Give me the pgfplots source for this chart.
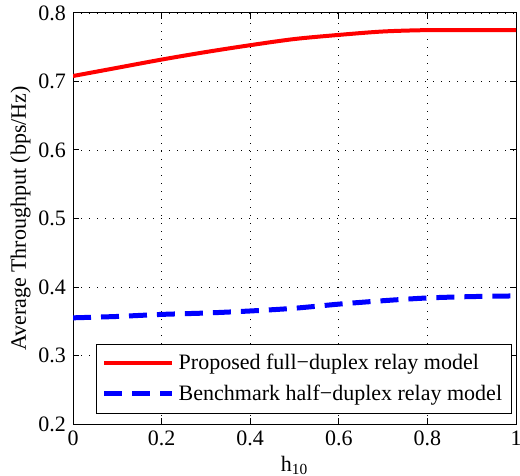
\documentclass[border=0pt]{standalone}
\usepackage{fontspec}
\setmainfont{Liberation Serif}
\usepackage{pgfplots}
\pgfplotsset{compat=1.18}
\begin{document}
\begin{tikzpicture}
\begin{axis}[
  scale only axis,
  width=221.5pt, height=205.5pt,
  xmin=0, xmax=1, ymin=0.2, ymax=0.8,
  xtick={0,0.2,0.4,0.6,0.8,1},
  ytick={0.2,0.3,0.4,0.5,0.6,0.7,0.8},
  xticklabels={0,0.2,0.4,0.6,0.8,1},
  yticklabels={0.2,0.3,0.4,0.5,0.6,0.7,0.8},
  tick align=inside, tick pos=both,
  major tick length=3pt,
  grid=major,
  major grid style={black, line width=0.4pt, dash pattern=on 0.5pt off 3.5pt},
  axis line style={black, line width=0.5pt},
  every tick/.style={black, line width=0.5pt},
  tick label style={font=\fontsize{11}{13}\selectfont},
  label style={font=\fontsize{11}{13}\selectfont},
  xlabel={h\textsubscript{10}},
  ylabel={Average Throughput (bps/Hz)},
  xlabel style={yshift=2pt},
  ylabel style={yshift=-3pt},
  legend style={at={(0.99,0.025)}, anchor=south east, draw=black, line width=0.5pt,
    font=\fontsize{11}{13}\selectfont, inner xsep=2.5pt, inner ysep=3pt, row sep=2pt,
    cells={anchor=west}},
  legend image code/.code={\draw[#1] (0pt,0pt) -- (34pt,0pt);},
]
\addplot[red, line width=2pt, smooth] coordinates {
(0,0.708) (0.1,0.720) (0.2,0.732) (0.3,0.743) (0.4,0.753) (0.5,0.762) (0.6,0.768) (0.7,0.773) (0.8,0.775) (0.9,0.775) (1,0.775)};
\addlegendentry{Proposed full\textminus duplex relay model}
\addplot[blue, line width=2.5pt, dash pattern=on 9pt off 5pt, smooth] coordinates {
(0,0.355) (0.1,0.357) (0.2,0.360) (0.3,0.362) (0.4,0.365) (0.5,0.369) (0.6,0.375) (0.7,0.380) (0.8,0.384) (0.9,0.386) (1,0.387)};
\addlegendentry{Benchmark half\textminus duplex relay model}
\coordinate (bl) at (rel axis cs:-0.1648,-0.1241);
\coordinate (tr) at (rel axis cs:1.0090,1.0316);
\end{axis}
\pgfresetboundingbox
\path[use as bounding box] (bl) rectangle (tr);
\end{tikzpicture}
\end{document}
